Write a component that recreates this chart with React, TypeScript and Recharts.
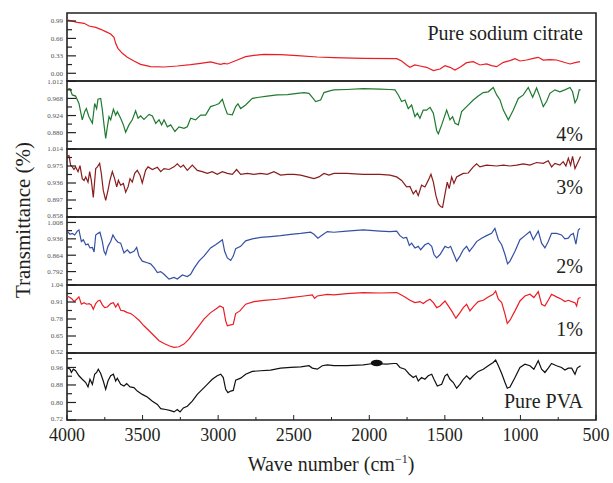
import React from 'react'
import {LineChart, Line, XAxis, YAxis, ReferenceArea, ReferenceDot} from 'recharts'

// [wave number, transmittance]
const citrate: [number, number][] = [
  [4000, 1.01], [3932, 0.965], [3887, 0.946], [3854, 0.895], [3810, 0.87], [3777, 0.832], [3744, 0.788],
  [3711, 0.744], [3689, 0.681], [3678, 0.567], [3663, 0.472], [3634, 0.378], [3601, 0.302], [3557, 0.233],
  [3513, 0.169], [3447, 0.125], [3358, 0.119], [3270, 0.138], [3182, 0.163], [3116, 0.188], [3050, 0.214],
  [3006, 0.182], [2983, 0.169], [2961, 0.188], [2939, 0.176], [2873, 0.251], [2818, 0.315], [2763, 0.34],
  [2697, 0.359], [2587, 0.352], [2476, 0.333], [2344, 0.308], [2234, 0.296], [2040, 0.283], [1819, 0.277],
  [1786, 0.233], [1753, 0.157], [1731, 0.113], [1698, 0.157], [1665, 0.138], [1621, 0.113], [1576, 0.05],
  [1532, 0.081], [1499, 0.144], [1466, 0.113], [1433, 0.062], [1400, 0.113], [1356, 0.201], [1312, 0.22],
  [1268, 0.157], [1224, 0.176], [1191, 0.144], [1157, 0.125], [1113, 0.207], [1069, 0.239], [1036, 0.277],
  [1003, 0.233], [959, 0.251], [915, 0.283], [882, 0.302], [849, 0.251], [805, 0.258], [761, 0.251],
  [717, 0.214], [672, 0.176], [639, 0.201], [606, 0.22],
]

const pct4: [number, number][] = [
  [4000, 0.992], [3980, 0.993], [3965, 0.977], [3943, 0.974], [3921, 0.955], [3899, 0.913], [3883, 0.934],
  [3872, 0.942], [3855, 0.921], [3832, 0.904], [3817, 0.955], [3804, 0.942], [3795, 0.966], [3777, 0.968],
  [3766, 0.938], [3755, 0.9], [3744, 0.865], [3733, 0.895], [3722, 0.921], [3711, 0.913], [3693, 0.94],
  [3678, 0.925], [3667, 0.934], [3645, 0.917], [3627, 0.9], [3612, 0.881], [3590, 0.9], [3568, 0.913],
  [3546, 0.936], [3530, 0.917], [3513, 0.923], [3491, 0.914], [3457, 0.927], [3435, 0.923], [3413, 0.904],
  [3391, 0.913], [3374, 0.9], [3358, 0.913], [3336, 0.895], [3314, 0.9], [3286, 0.883], [3259, 0.895],
  [3226, 0.891], [3204, 0.895], [3182, 0.917], [3149, 0.913], [3116, 0.925], [3083, 0.925], [3050, 0.947],
  [3017, 0.951], [2994, 0.955], [2972, 0.966], [2957, 0.947], [2939, 0.928], [2906, 0.926], [2884, 0.947],
  [2869, 0.954], [2851, 0.942], [2818, 0.951], [2774, 0.968], [2730, 0.971], [2675, 0.974], [2609, 0.977],
  [2542, 0.978], [2476, 0.981], [2432, 0.983], [2399, 0.981], [2377, 0.971], [2355, 0.96], [2322, 0.964],
  [2300, 0.983], [2256, 0.988], [2234, 0.99], [2150, 0.991], [2040, 0.993], [1929, 0.992], [1863, 0.991],
  [1830, 0.99], [1808, 0.977], [1786, 0.96], [1764, 0.964], [1742, 0.942], [1720, 0.951], [1698, 0.921],
  [1682, 0.93], [1665, 0.917], [1643, 0.938], [1621, 0.938], [1598, 0.945], [1576, 0.93], [1554, 0.885],
  [1543, 0.877], [1521, 0.9], [1488, 0.938], [1466, 0.913], [1449, 0.921], [1433, 0.904], [1411, 0.9],
  [1389, 0.934], [1356, 0.947], [1312, 0.964], [1279, 0.974], [1246, 0.983], [1213, 0.985], [1180, 0.996],
  [1157, 0.977], [1135, 0.964], [1113, 0.938], [1080, 0.913], [1047, 0.938], [1014, 0.968], [981, 0.977],
  [948, 0.996], [919, 0.971], [893, 0.995], [871, 0.972], [849, 0.947], [827, 0.96], [805, 0.981],
  [772, 0.99], [739, 0.985], [706, 0.99], [672, 0.996], [655, 0.985], [639, 0.957], [624, 0.968],
  [611, 0.99], [602, 0.99],
]

const pct3: [number, number][] = [
  [4000, 0.997], [3987, 0.999], [3976, 0.977], [3965, 0.973], [3954, 0.967], [3943, 0.973], [3927, 0.962],
  [3914, 0.976], [3899, 0.946], [3887, 0.942], [3876, 0.95], [3861, 0.938], [3850, 0.962], [3839, 0.942],
  [3826, 0.903], [3810, 0.969], [3799, 0.973], [3784, 0.981], [3773, 0.958], [3760, 0.919], [3744, 0.896],
  [3729, 0.919], [3716, 0.942], [3700, 0.962], [3685, 0.946], [3671, 0.927], [3660, 0.942], [3645, 0.931],
  [3627, 0.935], [3612, 0.915], [3596, 0.927], [3583, 0.946], [3568, 0.938], [3552, 0.958], [3535, 0.965],
  [3517, 0.954], [3502, 0.936], [3480, 0.965], [3464, 0.973], [3435, 0.967], [3402, 0.972], [3380, 0.962],
  [3358, 0.969], [3325, 0.967], [3292, 0.973], [3270, 0.98], [3248, 0.972], [3230, 0.977], [3204, 0.965],
  [3171, 0.977], [3138, 0.965], [3105, 0.962], [3072, 0.958], [3039, 0.962], [3006, 0.956], [2972, 0.962],
  [2939, 0.958], [2906, 0.956], [2878, 0.967], [2851, 0.956], [2807, 0.958], [2763, 0.956], [2719, 0.958],
  [2675, 0.956], [2631, 0.962], [2587, 0.954], [2542, 0.956], [2498, 0.956], [2454, 0.954], [2410, 0.95],
  [2366, 0.946], [2333, 0.95], [2300, 0.958], [2267, 0.954], [2234, 0.958], [2150, 0.958], [2040, 0.956],
  [1929, 0.956], [1863, 0.954], [1819, 0.95], [1786, 0.942], [1753, 0.927], [1731, 0.928], [1709, 0.911],
  [1691, 0.919], [1676, 0.907], [1654, 0.931], [1632, 0.927], [1610, 0.942], [1592, 0.956], [1576, 0.938],
  [1559, 0.907], [1543, 0.888], [1528, 0.882], [1515, 0.88], [1499, 0.911], [1484, 0.938], [1471, 0.923],
  [1455, 0.95], [1440, 0.935], [1422, 0.95], [1400, 0.954], [1378, 0.958], [1345, 0.959], [1312, 0.973],
  [1290, 0.98], [1268, 0.973], [1224, 0.977], [1157, 0.975], [1113, 0.977], [1069, 0.975], [1025, 0.977],
  [981, 0.98], [937, 0.977], [893, 0.983], [849, 0.981], [816, 0.987], [794, 0.973], [772, 0.981],
  [739, 0.977], [717, 0.985], [699, 0.975], [683, 0.993], [668, 0.977], [655, 0.997], [639, 0.969],
  [624, 0.98], [602, 0.997],
]

const pct2: [number, number][] = [
  [4000, 0.97], [3980, 0.956], [3965, 0.96], [3949, 0.953], [3932, 0.97], [3921, 0.975], [3905, 0.924],
  [3892, 0.932], [3876, 0.91], [3861, 0.913], [3848, 0.896], [3832, 0.898], [3821, 0.878], [3810, 0.953],
  [3795, 0.96], [3782, 0.965], [3766, 0.924], [3755, 0.881], [3744, 0.867], [3729, 0.903], [3711, 0.924],
  [3696, 0.953], [3678, 0.932], [3663, 0.921], [3645, 0.917], [3623, 0.874], [3601, 0.888], [3583, 0.874],
  [3557, 0.881], [3539, 0.898], [3524, 0.86], [3502, 0.838], [3469, 0.831], [3447, 0.826], [3424, 0.809],
  [3402, 0.788], [3380, 0.792], [3358, 0.78], [3325, 0.759], [3292, 0.766], [3270, 0.759], [3237, 0.777],
  [3204, 0.77], [3182, 0.78], [3160, 0.806], [3127, 0.838], [3094, 0.86], [3050, 0.896], [3017, 0.91],
  [2994, 0.921], [2972, 0.932], [2957, 0.881], [2939, 0.852], [2917, 0.841], [2900, 0.86], [2884, 0.893],
  [2851, 0.903], [2818, 0.927], [2774, 0.936], [2719, 0.942], [2653, 0.946], [2587, 0.95], [2520, 0.956],
  [2454, 0.96], [2388, 0.965], [2366, 0.956], [2340, 0.939], [2311, 0.953], [2278, 0.968], [2234, 0.965],
  [2150, 0.97], [2040, 0.975], [1929, 0.97], [1863, 0.968], [1819, 0.97], [1797, 0.95], [1775, 0.939],
  [1753, 0.942], [1735, 0.907], [1720, 0.917], [1698, 0.896], [1676, 0.903], [1660, 0.888], [1632, 0.91],
  [1610, 0.917], [1587, 0.903], [1572, 0.867], [1554, 0.852], [1532, 0.867], [1499, 0.903], [1477, 0.896],
  [1462, 0.903], [1444, 0.874], [1422, 0.838], [1400, 0.86], [1378, 0.888], [1356, 0.903], [1338, 0.881],
  [1312, 0.903], [1290, 0.924], [1257, 0.939], [1224, 0.95], [1191, 0.96], [1169, 0.982], [1146, 0.932],
  [1124, 0.91], [1102, 0.867], [1085, 0.826], [1069, 0.838], [1036, 0.881], [1003, 0.932], [970, 0.95],
  [937, 0.968], [915, 0.932], [882, 0.97], [860, 0.917], [838, 0.896], [816, 0.924], [794, 0.96],
  [761, 0.96], [728, 0.953], [706, 0.936], [683, 0.939], [668, 0.953], [650, 0.96], [633, 0.913],
  [617, 0.975], [606, 0.982],
]

const pct1: [number, number][] = [
  [4000, 0.956], [3980, 0.944], [3965, 0.931], [3954, 0.913], [3936, 0.931], [3921, 0.949], [3905, 0.893],
  [3887, 0.905], [3870, 0.893], [3854, 0.898], [3839, 0.888], [3826, 0.855], [3810, 0.898], [3795, 0.918],
  [3782, 0.923], [3766, 0.888], [3751, 0.867], [3733, 0.872], [3711, 0.898], [3693, 0.905], [3678, 0.872],
  [3663, 0.898], [3645, 0.847], [3623, 0.842], [3601, 0.829], [3579, 0.822], [3557, 0.804], [3524, 0.771],
  [3491, 0.728], [3457, 0.69], [3424, 0.652], [3391, 0.614], [3358, 0.593], [3325, 0.575], [3292, 0.563],
  [3259, 0.568], [3226, 0.588], [3193, 0.626], [3160, 0.677], [3127, 0.728], [3094, 0.779], [3050, 0.829],
  [3017, 0.855], [2988, 0.88], [2966, 0.867], [2950, 0.766], [2939, 0.728], [2917, 0.735], [2900, 0.74],
  [2884, 0.822], [2856, 0.842], [2818, 0.893], [2763, 0.913], [2697, 0.923], [2609, 0.931], [2520, 0.944],
  [2432, 0.956], [2377, 0.964], [2362, 0.938], [2344, 0.956], [2278, 0.969], [2234, 0.964], [2150, 0.974],
  [2040, 0.982], [1929, 0.979], [1819, 0.982], [1797, 0.969], [1764, 0.949], [1731, 0.923], [1698, 0.905],
  [1665, 0.913], [1643, 0.898], [1621, 0.918], [1598, 0.931], [1576, 0.905], [1554, 0.867], [1532, 0.88],
  [1499, 0.918], [1477, 0.88], [1455, 0.842], [1427, 0.786], [1400, 0.829], [1378, 0.867], [1356, 0.893],
  [1334, 0.842], [1307, 0.88], [1279, 0.913], [1246, 0.923], [1213, 0.949], [1180, 0.969], [1164, 0.994],
  [1146, 0.931], [1124, 0.905], [1102, 0.817], [1087, 0.746], [1069, 0.771], [1036, 0.842], [1003, 0.918],
  [970, 0.956], [937, 0.969], [911, 0.944], [882, 0.989], [860, 0.893], [838, 0.88], [816, 0.923],
  [794, 0.969], [761, 0.949], [728, 0.931], [706, 0.913], [683, 0.923], [661, 0.913], [639, 0.905],
  [628, 0.88], [617, 0.938], [602, 0.944],
]

const pva: [number, number][] = [
  [4000, 0.96], [3980, 0.952], [3971, 0.937], [3958, 0.952], [3943, 0.945], [3921, 0.922], [3899, 0.906],
  [3876, 0.891], [3861, 0.871], [3848, 0.906], [3832, 0.883], [3817, 0.929], [3804, 0.937], [3793, 0.952],
  [3777, 0.932], [3760, 0.898], [3744, 0.86], [3729, 0.898], [3711, 0.922], [3693, 0.929], [3678, 0.898],
  [3667, 0.911], [3645, 0.883], [3623, 0.875], [3605, 0.886], [3583, 0.871], [3557, 0.868], [3535, 0.852],
  [3502, 0.837], [3469, 0.825], [3435, 0.806], [3402, 0.791], [3380, 0.772], [3347, 0.768], [3314, 0.763],
  [3292, 0.757], [3270, 0.768], [3252, 0.757], [3230, 0.775], [3204, 0.783], [3171, 0.806], [3138, 0.837],
  [3105, 0.86], [3072, 0.883], [3039, 0.906], [3006, 0.922], [2983, 0.929], [2966, 0.914], [2950, 0.86],
  [2935, 0.845], [2917, 0.852], [2900, 0.855], [2884, 0.902], [2851, 0.911], [2818, 0.929], [2774, 0.942],
  [2719, 0.945], [2653, 0.948], [2587, 0.957], [2520, 0.96], [2454, 0.963], [2399, 0.968], [2377, 0.957],
  [2344, 0.952], [2311, 0.968], [2278, 0.972], [2234, 0.968], [2150, 0.968], [2040, 0.972], [1973, 0.978],
  [1885, 0.975], [1841, 0.978], [1819, 0.978], [1797, 0.96], [1764, 0.952], [1735, 0.929], [1709, 0.914],
  [1691, 0.922], [1676, 0.898], [1654, 0.914], [1632, 0.906], [1610, 0.922], [1587, 0.929], [1572, 0.906],
  [1550, 0.875], [1521, 0.883], [1499, 0.922], [1484, 0.929], [1466, 0.906], [1444, 0.891], [1422, 0.865],
  [1400, 0.883], [1378, 0.906], [1356, 0.922], [1334, 0.906], [1312, 0.922], [1279, 0.942], [1246, 0.952],
  [1213, 0.968], [1180, 0.983], [1164, 0.994], [1146, 0.968], [1124, 0.932], [1102, 0.891], [1087, 0.865],
  [1069, 0.871], [1036, 0.914], [1003, 0.96], [970, 0.975], [937, 0.968], [911, 0.952], [882, 0.991],
  [860, 0.952], [838, 0.937], [816, 0.957], [794, 0.978], [761, 0.968], [728, 0.96], [706, 0.948],
  [683, 0.957], [661, 0.957], [639, 0.929], [624, 0.957], [602, 0.968],
]

const xMajor = [4000, 3500, 3000, 2500, 2000, 1500, 1000, 500]
const xMinor = [3750, 3250, 2750, 2250, 1750, 1250, 750]

const FONT = '"Liberation Serif", "DejaVu Serif", serif'
const PLOT_LEFT = 67
const PLOT_RIGHT = 596
const W = 613
const PAD = 4

type Panel = {
  data: [number, number][]
  color: string
  label: string
  labelY: number
  top: number
  bottom: number
  domain: [number, number]
  majors: number[]
  minors: number[]
  digits: number
}

const panels: Panel[] = [
  {data: citrate, color: '#ec1c24', label: 'Pure sodium citrate', labelY: 40, top: 13, bottom: 81,
    domain: [-0.146, 1.141], majors: [0, 0.33, 0.66, 0.99], minors: [0.165, 0.495, 0.825], digits: 2},
  {data: pct4, color: '#1f7a30', label: '4%', labelY: 141, top: 81, bottom: 149,
    domain: [0.838, 1.0128], majors: [0.88, 0.924, 0.968, 1.012], minors: [0.858, 0.902, 0.946, 0.99], digits: 3},
  {data: pct3, color: '#8a1c1c', label: '3%', labelY: 194, top: 149, bottom: 217,
    domain: [0.858, 1.014], majors: [0.858, 0.897, 0.936, 0.975, 1.014], minors: [0.8775, 0.9165, 0.9555, 0.9945], digits: 3},
  {data: pct2, color: '#3450a4', label: '2%', labelY: 273, top: 217, bottom: 285,
    domain: [0.733, 1.032], majors: [0.792, 0.864, 0.936, 1.008], minors: [0.756, 0.828, 0.9, 0.972], digits: 3},
  {data: pct1, color: '#ec1c24', label: '1%', labelY: 336, top: 285, bottom: 353,
    domain: [0.52, 1.04], majors: [0.52, 0.65, 0.78, 0.91, 1.04], minors: [0.585, 0.715, 0.845, 0.975], digits: 2},
  {data: pva, color: '#111111', label: 'Pure PVA', labelY: 408, top: 353, bottom: 420,
    domain: [0.72, 1.026], majors: [0.72, 0.8, 0.88, 0.96], minors: [0.76, 0.84, 0.92, 1.0], digits: 2},
]

const isIn = (list: number[], v: number) => list.some(m => Math.abs(m - v) < 1e-9)

function PanelChart({p, last}: {p: Panel; last: boolean}) {
  const rows = p.data.map(([w, t]) => ({w, t}))
  const axisH = last ? 32 : 0
  const height = p.bottom - p.top + PAD * 2 + axisH - (last ? PAD : 0)
  return (
    <div style={{position: 'absolute', left: 0, top: p.top - PAD}}>
      <LineChart
        width={W}
        height={height}
        data={rows}
        margin={{top: PAD, right: W - PLOT_RIGHT, left: PLOT_LEFT - 40, bottom: last ? 0 : PAD}}
      >
        <XAxis
          dataKey="w"
          type="number"
          domain={[500, 4000]}
          reversed
          allowDataOverflow
          hide={!last}
          height={axisH}
          ticks={[...xMajor, ...xMinor]}
          interval={0}
          axisLine={false}
          tickLine={false}
          tickSize={0}
          tickMargin={0}
          tick={(props: any) => {
            const {x, y, payload} = props
            const major = isIn(xMajor, payload.value)
            return (
              <g>
                <line x1={x} x2={x} y1={y} y2={y - (major ? 5 : 3)} stroke="#222" strokeWidth={1} />
                {major && (
                  <text x={x} y={y + 21} textAnchor="middle" fontSize={18} fontFamily={FONT} fill="#231f20">
                    {payload.value}
                  </text>
                )}
              </g>
            )
          }}
        />
        <YAxis
          type="number"
          width={40}
          domain={p.domain}
          allowDataOverflow
          ticks={[...p.majors, ...p.minors]}
          interval={0}
          axisLine={false}
          tickLine={false}
          tickSize={0}
          tickMargin={0}
          tick={(props: any) => {
            const {x, y, payload} = props
            const major = isIn(p.majors, payload.value)
            // nudge the label sitting on a panel's bottom edge up a little
            const nudge = Math.abs(payload.value - p.domain[0]) < 1e-9 ? -1.5 : 0
            return (
              <g>
                <line x1={x} x2={x + (major ? 9 : 5)} y1={y} y2={y} stroke="#222" strokeWidth={1.2} />
                {major && (
                  <text x={x - 4} y={y + 2.4 + nudge} textAnchor="end" fontSize={7} fontFamily={FONT} fill="#555">
                    {payload.value.toFixed(p.digits)}
                  </text>
                )}
              </g>
            )
          }}
        />
        <ReferenceArea
          x1={4000}
          x2={500}
          y1={p.domain[0]}
          y2={p.domain[1]}
          fill="none"
          stroke="#222"
          strokeWidth={1.6}
          ifOverflow="visible"
        />
        <Line
          isAnimationActive={false}
          type="linear"
          dataKey="t"
          stroke={p.color}
          strokeWidth={1.2}
          dot={false}
        />
        {last && (
          <ReferenceDot
            x={1951}
            y={0.98}
            r={5}
            ifOverflow="visible"
            shape={(s: any) => <ellipse cx={s.cx} cy={s.cy} rx={6} ry={3.2} fill="#111" />}
          />
        )}
      </LineChart>
    </div>
  )
}

export default function App() {
  return (
    <div style={{position: 'absolute', left: 0, top: 0, width: W, height: 483, background: '#fff'}}>
      {panels.map((p, i) => (
        <PanelChart key={p.label} p={p} last={i === panels.length - 1} />
      ))}
      <svg width={W} height={483} style={{position: 'absolute', left: 0, top: 0, pointerEvents: 'none'}}>
        {panels.map(p => (
          <text key={p.label} x={583} y={p.labelY} textAnchor="end" fontSize={20} fontFamily={FONT} fill="#231f20">
            {p.label}
          </text>
        ))}
        <text x={331} y={471} textAnchor="middle" fontSize={20} fontFamily={FONT} fill="#231f20">
          Wave number (cm
          <tspan dy={-8} fontSize={12}>−1</tspan>
          <tspan dy={8}>)</tspan>
        </text>
        <text
          x={30}
          y={220}
          transform="rotate(-90 30 220)"
          textAnchor="middle"
          fontSize={21}
          fontFamily={FONT}
          fill="#231f20"
        >
          Transmittance (%)
        </text>
      </svg>
    </div>
  )
}
